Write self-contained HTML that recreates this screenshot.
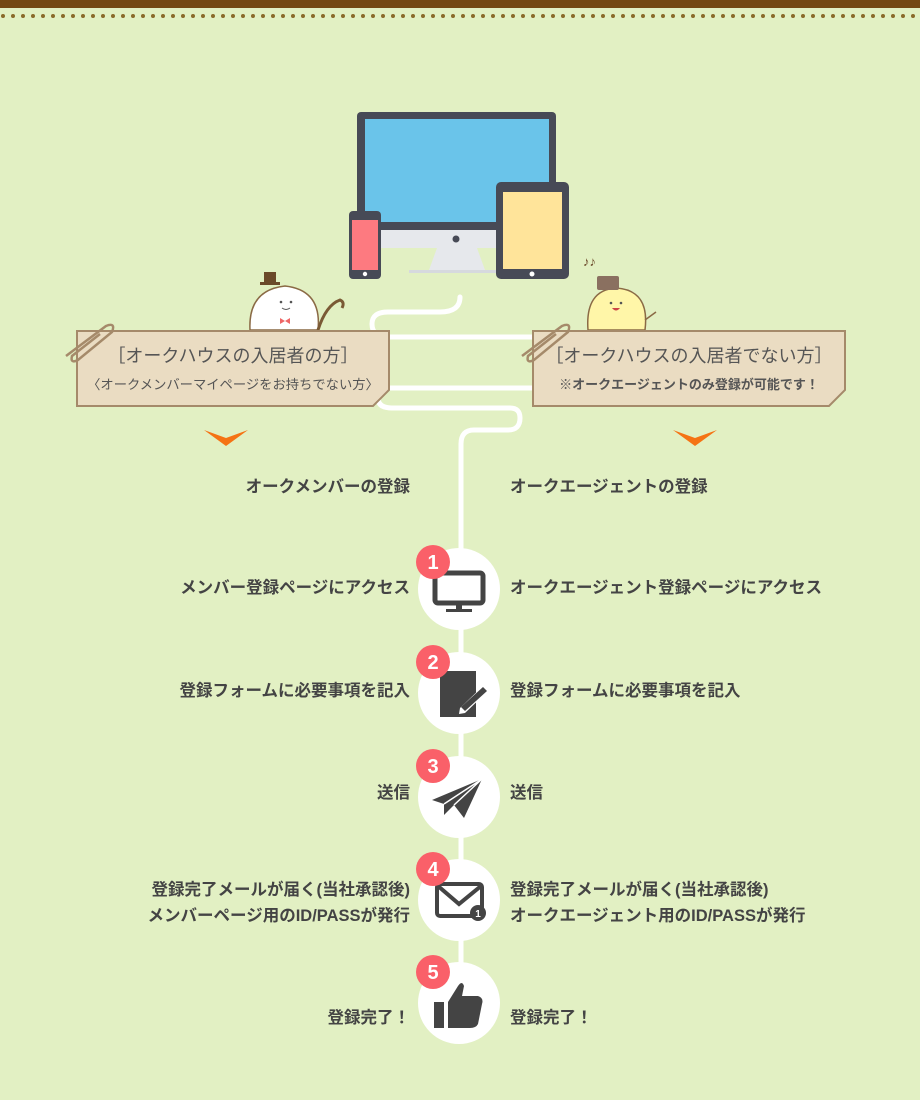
<!DOCTYPE html>
<html><head><meta charset="utf-8"><style>
html,body{margin:0;padding:0;}
body{width:920px;height:1100px;background:#e2f0c3;overflow:hidden;position:relative;font-family:"Liberation Sans","Noto Sans CJK JP",sans-serif;}
svg{position:absolute;left:0;top:0;}
.t{position:absolute;font-size:16.5px;font-weight:bold;color:#444;line-height:26px;white-space:nowrap;}
.l{right:510px;text-align:right;}
.r{left:510px;}
.card{position:absolute;text-align:center;color:#555;white-space:nowrap;}
</style></head><body>
<svg width="920" height="1100" viewBox="0 0 920 1100">
<rect x="0" y="0" width="920" height="8" fill="#744812"/>
<path d="M5 16 H920" stroke="#8a6a2a" stroke-width="4" stroke-linecap="round" stroke-dasharray="0 10" fill="none" transform="translate(-2,0)"/>
<path d="M460 297 Q460 312 440 312 H388 Q372 312 372 324 Q372 337 388 337 H535 M535 388 H390 Q378 388 378 398 Q378 408 392 408 H510 Q520 408 520 418 Q520 430 508 430 H474 Q461 430 461 444 V1003" stroke="#fff" stroke-width="5" fill="none" stroke-linecap="round"/>
<rect x="357" y="112" width="199" height="120" rx="4" fill="#474a56"/>
<rect x="365" y="119" width="184" height="103" fill="#6ac4ea"/>
<rect x="357" y="230" width="199" height="18" fill="#e6e8ec"/>
<circle cx="456" cy="239" r="3.5" fill="#474a56"/>
<path d="M437 248 H477 L485 270 H429 Z" fill="#e6e8ec"/>
<rect x="409" y="270" width="96" height="3" fill="#d6d9de"/>
<rect x="496" y="182" width="73" height="97" rx="5" fill="#474a56"/>
<rect x="503" y="192" width="59" height="77" fill="#ffe49a"/>
<circle cx="532" cy="274" r="2.5" fill="#fff"/>
<rect x="349" y="211" width="32" height="68" rx="4" fill="#474a56"/>
<rect x="352" y="220" width="26" height="50" fill="#fd7a80"/>
<circle cx="365" cy="274" r="2.2" fill="#fff"/>
<path d="M250 330 Q248 290 285 286 Q322 290 318 330 Z" fill="#fff" stroke="#8a6a45" stroke-width="1.5"/>
<rect x="264" y="272" width="12" height="12" fill="#6b4a2a"/><rect x="260" y="282" width="20" height="3" fill="#6b4a2a"/>
<circle cx="281" cy="302" r="1.3" fill="#555"/><circle cx="291" cy="302" r="1.3" fill="#555"/>
<path d="M282 308 q4 3 8 0" stroke="#555" fill="none"/>
<path d="M280 318 l5 3 l5 -3 v6 l-5 -3 l-5 3 z" fill="#e66"/>
<path d="M318 330 Q326 305 340 300 Q345 302 342 308" stroke="#7a5a35" stroke-width="3" fill="none"/>
<path d="M588 330 Q585 290 616 288 Q650 290 645 330 Z" fill="#fff6a8" stroke="#8a6a45" stroke-width="1.5"/>
<rect x="597" y="276" width="22" height="14" rx="2" fill="#8a7060"/>
<circle cx="611" cy="303" r="1.3" fill="#555"/><circle cx="621" cy="303" r="1.3" fill="#555"/>
<path d="M612 308 q4 5 8 0 z" fill="#c44"/>
<path d="M645 320 L656 312" stroke="#8a6a45" stroke-width="1.5"/>
<text x="583" y="266" font-size="13" fill="#6b4a2a">♪♪</text>
<path d="M77 331 H389 V390 L373 406 H77 Z" fill="#eadcc2" stroke="#a58a6a" stroke-width="2"/>
<path d="M533 331 H845 V390 L829 406 H533 Z" fill="#eadcc2" stroke="#a58a6a" stroke-width="2"/>
<g fill="none" stroke="#a58a6a" stroke-width="2.5">
<path d="M66 356 L106 326 Q116 322 112 332 L78 360 Q70 364 72 356 L100 334"/>
<path d="M522 356 L562 326 Q572 322 568 332 L534 360 Q526 364 528 356 L556 334"/>
</g>
<path d="M204 430 L226 438 L248 430 L226 446 Z" fill="#f57314"/>
<path d="M673 430 L695 438 L717 430 L695 446 Z" fill="#f57314"/>
<g fill="#fff">
<circle cx="459" cy="589" r="41"/><circle cx="459" cy="693" r="41"/><circle cx="459" cy="797" r="41"/><circle cx="459" cy="900" r="41"/><circle cx="459" cy="1003" r="41"/>
</g>
<g fill="#444">
<rect x="435" y="573" width="48" height="30" rx="3" fill="none" stroke="#444" stroke-width="5"/>
<rect x="456" y="605" width="6" height="6"/><rect x="446" y="609" width="26" height="3"/>
<rect x="440" y="671" width="36" height="46"/>
<path d="M460 708 L484 685 L489 690 L465 713 L459 714 Z" fill="#fff"/>
<path d="M461 707 L483 687 L487 691 L465 711 Z" fill="#444"/>
<path d="M432 800 L482 779 L464 818 L454 805 L444 815 L444 804 Z"/>
<path d="M444 804 L482 779 L454 805" stroke="#fff" stroke-width="1.5" fill="none"/>
<rect x="437" y="884" width="45" height="32" rx="3" fill="none" stroke="#444" stroke-width="4"/>
<path d="M438 886 L459 904 L481 886" stroke="#444" stroke-width="4" fill="none"/>
<circle cx="478" cy="913" r="8"/>
<rect x="434" y="1002" width="10" height="26"/>
<path d="M448 1002 L458 986 Q462 980 464 986 L462 996 H478 Q484 998 482 1004 L478 1024 Q476 1028 470 1028 H448 Z"/>
</g>
<g fill="#fa6069">
<circle cx="433" cy="562" r="17"/><circle cx="433" cy="662" r="17"/><circle cx="433" cy="766" r="17"/><circle cx="433" cy="869" r="17"/><circle cx="433" cy="972" r="17"/>
</g>
<g fill="#fff" font-size="20" font-weight="bold" text-anchor="middle" font-family="Liberation Sans, sans-serif">
<text x="433" y="569">1</text><text x="433" y="669">2</text><text x="433" y="773">3</text><text x="433" y="876">4</text><text x="433" y="979">5</text>
</g>
<text x="478" y="917" fill="#fff" font-size="10" font-weight="bold" text-anchor="middle" font-family="Liberation Sans, sans-serif">1</text>
</svg>

<div class="card" style="left:77px;top:342px;width:312px;font-size:18px;">［オークハウスの入居者の方］</div>
<div class="card" style="left:77px;top:374px;width:312px;font-size:13.3px;">〈オークメンバーマイページをお持ちでない方〉</div>
<div class="card" style="left:533px;top:342px;width:312px;font-size:18px;">［オークハウスの入居者でない方］</div>
<div class="card" style="left:533px;top:374px;width:312px;font-size:13px;font-weight:bold;">※オークエージェントのみ登録が可能です！</div>

<div class="t l" style="top:474px">オークメンバーの登録</div>
<div class="t r" style="top:474px">オークエージェントの登録</div>
<div class="t l" style="top:575px">メンバー登録ページにアクセス</div>
<div class="t r" style="top:575px">オークエージェント登録ページにアクセス</div>
<div class="t l" style="top:678px">登録フォームに必要事項を記入</div>
<div class="t r" style="top:678px">登録フォームに必要事項を記入</div>
<div class="t l" style="top:780px">送信</div>
<div class="t r" style="top:780px">送信</div>
<div class="t l" style="top:877px">登録完了メールが届く(当社承認後)<br>メンバーページ用のID/PASSが発行</div>
<div class="t r" style="top:877px">登録完了メールが届く(当社承認後)<br>オークエージェント用のID/PASSが発行</div>
<div class="t l" style="top:1005px">登録完了！</div>
<div class="t r" style="top:1005px">登録完了！</div>
</body></html>
